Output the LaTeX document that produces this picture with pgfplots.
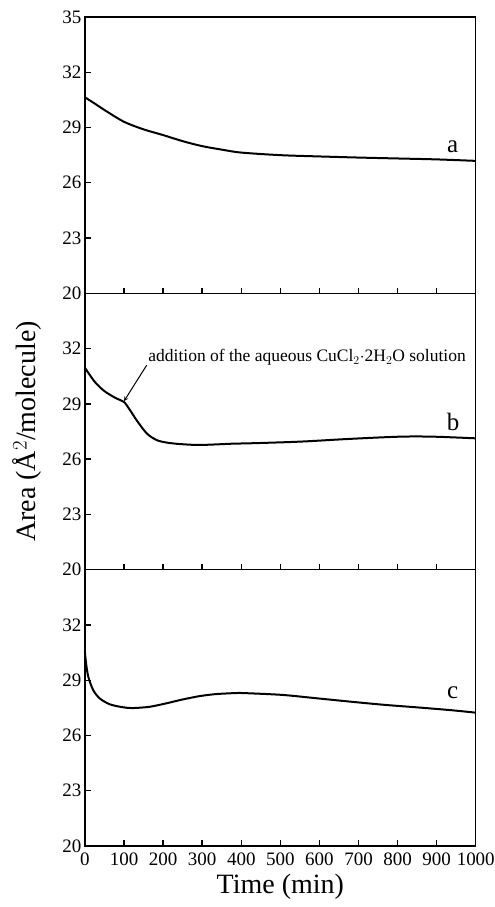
\documentclass[border=0pt]{standalone}
\usepackage{pgfplots}
\pgfplotsset{compat=1.18}
\usepgfplotslibrary{groupplots}
\usepackage{fontspec}
\setmainfont{Liberation Serif}

\begin{document}
\begin{tikzpicture}
\begin{groupplot}[
    group style={group size=1 by 3, vertical sep=0pt, xticklabels at=edge bottom},
    scale only axis,
    width=391pt, height=276.5pt,
    xmin=0, xmax=1000, ymin=20, ymax=35,
    xtick={0,100,...,1000},
    ytick={20,23,26,29,32},
    tick align=inside,
    xtick pos=left, ytick pos=left,
    major tick length=5pt,
    axis on top,
    axis line style={line width=1.5pt},
    every tick/.append style={black, line width=1.4pt, line cap=rect},
    tick label style={font=\fontsize{19}{19}\selectfont},
    xticklabel style={yshift=-3pt},
    /pgf/number format/assume math mode=true,
    /pgf/number format/1000 sep={},
    clip=false,
]
\nextgroupplot[ytick={20,23,26,29,32,35}]
\coordinate (tl) at (rel axis cs:0,1);
\addplot[black, line width=2pt, smooth] coordinates {
(0,30.64)(25,30.3)(50,29.95)(100,29.31)(150,28.9)(200,28.59)(250,28.26)
(300,27.99)(350,27.8)(400,27.64)(500,27.5)(600,27.43)(700,27.37)(800,27.32)
(900,27.27)(1000,27.19)};
\node[font=\fontsize{25}{25}\selectfont] at (axis cs:941,27.95) {a};

\nextgroupplot[ylabel={Area (Å$^{2}$/molecule)},
    ylabel style={font=\fontsize{28}{28}\selectfont, yshift=14pt}]
\addplot[black, line width=2pt, smooth] coordinates {
(0,30.96)(25,30.2)(50,29.69)(80,29.3)(100,29.1)(115,28.67)(132,28.12)(158,27.4)
(183,27.04)(209,26.9)(243,26.82)(294,26.77)(379,26.84)(422,26.86)(550,26.95)
(678,27.1)(806,27.22)(891,27.22)(1000,27.13)};
\node[font=\fontsize{25}{25}\selectfont] at (axis cs:942,28.03) {b};
\node[font=\fontsize{17.5}{17.5}\selectfont, anchor=base west, inner sep=0pt] at (axis cs:162,31.3)
    {addition of the aqueous CuCl$_{2}$$\cdot$2H$_{2}$O solution};
\draw[-stealth, line width=1pt] (axis cs:158,31.1) -- (axis cs:100,29.15);

\nextgroupplot[xlabel={Time (min)},
    xlabel style={font=\fontsize{28}{28}\selectfont, yshift=-2pt}]
\coordinate (br) at (rel axis cs:1,0);
\addplot[black, line width=2pt, smooth] coordinates {
(0,30.5)(3,29.9)(8.5,29.19)(21,28.47)(38,28.01)(64,27.69)(98,27.53)(123,27.49)
(166,27.56)(209,27.75)(251,27.96)(294,28.14)(337,28.25)(396,28.31)(422,28.29)
(507,28.2)(593,28.02)(678,27.84)(763,27.67)(848,27.53)(934,27.38)(1000,27.24)};
\node[font=\fontsize{25}{25}\selectfont] at (axis cs:941,28.32) {c};
\end{groupplot}
\pgfresetboundingbox
\path ([shift={(-85pt,17pt)}]tl) rectangle ([shift={(19pt,-61pt)}]br);
\end{tikzpicture}
\end{document}
